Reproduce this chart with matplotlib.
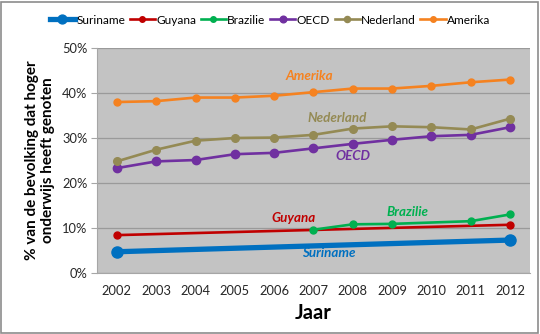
import numpy as np
import matplotlib.pyplot as plt
from matplotlib.patches import Rectangle

plt.rcParams["font.family"] = ["Lato", "DejaVu Sans"]

years = list(range(2002, 2013))
suriname_x = [2002, 2012]
suriname = [4.7, 7.3]
guyana_x = [2002, 2012]
guyana = [8.4, 10.7]
brazilie_x = [2007, 2008, 2009, 2011, 2012]
brazilie = [9.6, 10.8, 10.9, 11.5, 13.0]
oecd = [23.3, 24.8, 25.1, 26.4, 26.7, 27.7, 28.7, 29.6, 30.4, 30.7, 32.4]
nederland = [24.8, 27.4, 29.4, 30.0, 30.1, 30.7, 32.1, 32.6, 32.4, 31.9, 34.3]
amerika = [38.0, 38.2, 39.0, 39.0, 39.4, 40.2, 41.0, 41.0, 41.6, 42.4, 43.0]

BLUE, RED, GREEN = "#0070C0", "#C00000", "#00B050"
PURPLE, OLIVE, ORANGE = "#7030A0", "#948A54", "#F58220"

fig = plt.figure(figsize=(5.4, 3.34), dpi=100)
fig.patch.set_facecolor("white")
fig.add_artist(Rectangle((0.002, 0.003), 0.994, 0.992, transform=fig.transFigure,
                         fill=False, edgecolor="#8C8C8C", lw=1.2))
ax = fig.add_axes([0.18, 0.183, 0.801, 0.673])
ax.set_facecolor("#C3C3C3")


def idx(ys):
    return [y - 2002 for y in ys]


ax.plot(idx(suriname_x), suriname, "o-", color=BLUE, lw=3.8, ms=8, label="Suriname", zorder=5)
ax.plot(idx(guyana_x), guyana, "o-", color=RED, lw=1.9, ms=5, label="Guyana", zorder=4)
ax.plot(idx(brazilie_x), brazilie, "o-", color=GREEN, lw=1.9, ms=5, label="Brazilie", zorder=4)
ax.plot(idx(years), oecd, "o-", color=PURPLE, lw=1.9, ms=6, label="OECD", zorder=4)
ax.plot(idx(years), nederland, "o-", color=OLIVE, lw=1.9, ms=5.5, label="Nederland", zorder=4)
ax.plot(idx(years), amerika, "o-", color=ORANGE, lw=1.9, ms=5, label="Amerika", zorder=4)

labels = [("Amerika", 4.9, 43.8, ORANGE), ("Nederland", 5.6, 34.4, OLIVE),
          ("OECD", 6.0, 26.1, PURPLE), ("Guyana", 4.5, 12.2, RED),
          ("Brazilie", 7.4, 13.6, GREEN), ("Suriname", 5.4, 4.4, BLUE)]
for t, xx, yy, c in labels:
    ax.text(xx, yy, t, color=c, fontsize=9.6, fontweight="bold", fontstyle="italic",
            ha="center", va="center")

ax.set_xlim(-0.5, 10.5)
ax.set_ylim(0, 50)
ax.set_xticks(range(11))
ax.set_xticklabels([str(y) for y in years])
ax.set_yticks(np.arange(0, 51, 10))
ax.set_yticklabels([f"{v}%" for v in range(0, 51, 10)])
ax.grid(axis="y", color="#9A9A9A", lw=0.9)
ax.set_axisbelow(True)
ax.tick_params(axis="x", length=0, pad=9, labelsize=9.3, colors="#262626")
ax.tick_params(axis="y", length=4, color="#A6A6A6", pad=3, labelsize=9.3, colors="#262626")
for s in ["top", "right"]:
    ax.spines[s].set_visible(False)
for s in ["left", "bottom"]:
    ax.spines[s].set_color("#A6A6A6")

ax.set_xlabel("Jaar", fontsize=14.5, fontweight="bold", labelpad=4)
ax.set_ylabel("% van de bevolking dat hoger\nonderwijs heeft genoten",
              fontsize=11, fontweight="bold", labelpad=5)

fig.legend(loc="center", bbox_to_anchor=(0.5, 0.94), ncol=6, frameon=False,
           fontsize=8.6, handlelength=2.1, handletextpad=0.1, columnspacing=0.4,
           markerscale=0.8)

fig.savefig("out.png", dpi=100, facecolor="white")
